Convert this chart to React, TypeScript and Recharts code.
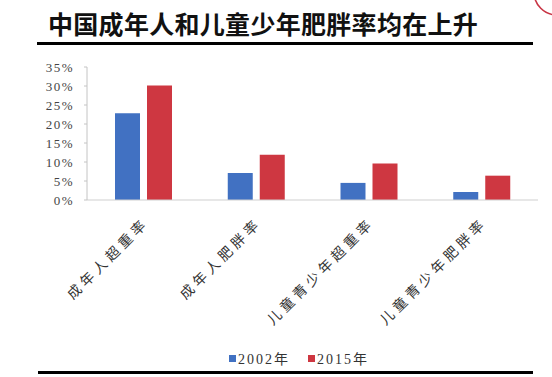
import React from 'react'
import { BarChart, Bar, XAxis, YAxis, Legend } from 'recharts'

// 类别与数值
const categories = ['成年人超重率', '成年人肥胖率', '儿童青少年超重率', '儿童青少年肥胖率']
const rate2002 = [0.228, 0.071, 0.045, 0.021]
const rate2015 = [0.301, 0.119, 0.096, 0.064]
const yTicks = [0, 0.05, 0.1, 0.15, 0.2, 0.25, 0.3, 0.35]
const seriesNames = ['2002年', '2015年']

const BLUE = '#4171c2'
const RED = '#ce3741'

const data = categories.map((name, i) => ({
  name,
  y2002: rate2002[i],
  y2015: rate2015[i]
}))

const CategoryTick = (props: any) => {
  const { x, y, payload } = props
  return (
    <g transform={`translate(${x + 6},${y + 24})`}>
      <text
        x={0}
        y={0}
        textAnchor="end"
        transform="rotate(-45)"
        fill="#333"
        fontSize={14}
        letterSpacing={4}
        fontFamily="'Noto Sans CJK SC', sans-serif"
      >
        {payload.value}
      </text>
    </g>
  )
}

const LegendBox = () => (
  <div
    style={{
      display: 'flex',
      alignItems: 'center',
      height: 18,
      paddingLeft: 229,
      fontFamily: "'Liberation Serif', 'Noto Sans CJK SC', serif",
      fontSize: 14,
      letterSpacing: 2,
      color: '#333'
    }}
  >
    {seriesNames.map((s, i) => (
      <div key={s} style={{ display: 'flex', alignItems: 'center', marginRight: i === 0 ? 18 : 0 }}>
        <span style={{ width: 7, height: 7, background: i === 0 ? BLUE : RED, marginRight: 2 }} />
        <span>{s}</span>
      </div>
    ))}
  </div>
)

export default function App() {
  return (
    <div
      style={{
        position: 'absolute',
        left: 0,
        top: 0,
        width: 552,
        height: 377,
        background: '#fff',
        overflow: 'hidden'
      }}
    >
      {/* 标题 */}
      <div
        style={{
          position: 'absolute',
          left: 48,
          top: 5,
          fontFamily: "'Noto Sans CJK SC', sans-serif",
          fontWeight: 700,
          fontSize: 25,
          letterSpacing: 0.3,
          color: '#111',
          whiteSpace: 'nowrap'
        }}
      >
        中国成年人和儿童少年肥胖率均在上升
      </div>
      <div style={{ position: 'absolute', left: 37, top: 42, width: 496, height: 3, background: '#000' }} />
      <div style={{ position: 'absolute', left: 38, top: 371, width: 495, height: 3, background: '#000' }} />
      <svg width={552} height={377} style={{ position: 'absolute', left: 0, top: 0 }}>
        <circle cx={557} cy={-8} r={23} fill="none" stroke="#c83545" strokeWidth={1.6} />
      </svg>

      <div style={{ position: 'absolute', left: 0, top: 0 }}>
        <BarChart
          width={552}
          height={377}
          data={data}
          margin={{ top: 67, right: 14, left: 0, bottom: 10 }}
          barSize={25}
          barGap={7}
        >
          <XAxis
            dataKey="name"
            height={149}
            interval={0}
            tickLine={false}
            tickSize={0}
            tickMargin={0}
            axisLine={{ stroke: '#cfcfcf' }}
            tick={<CategoryTick />}
          />
          <YAxis
            width={87}
            domain={[0, 0.35]}
            ticks={yTicks}
            interval={0}
            tickSize={3}
            tickMargin={10}
            axisLine={{ stroke: '#c4c4c4' }}
            tickLine={{ stroke: '#c4c4c4' }}
            tickFormatter={(v: number) => `${Math.round(v * 100)}%`}
            tick={{
              fill: '#444',
              fontSize: 13,
              fontFamily: "'Liberation Serif', serif",
              letterSpacing: 1.5
            }}
          />
          <Legend verticalAlign="bottom" content={<LegendBox />} wrapperStyle={{ left: 0, width: 552 }} />
          <Bar dataKey="y2002" name="2002年" fill={BLUE} isAnimationActive={false} />
          <Bar dataKey="y2015" name="2015年" fill={RED} isAnimationActive={false} />
        </BarChart>
      </div>
    </div>
  )
}
